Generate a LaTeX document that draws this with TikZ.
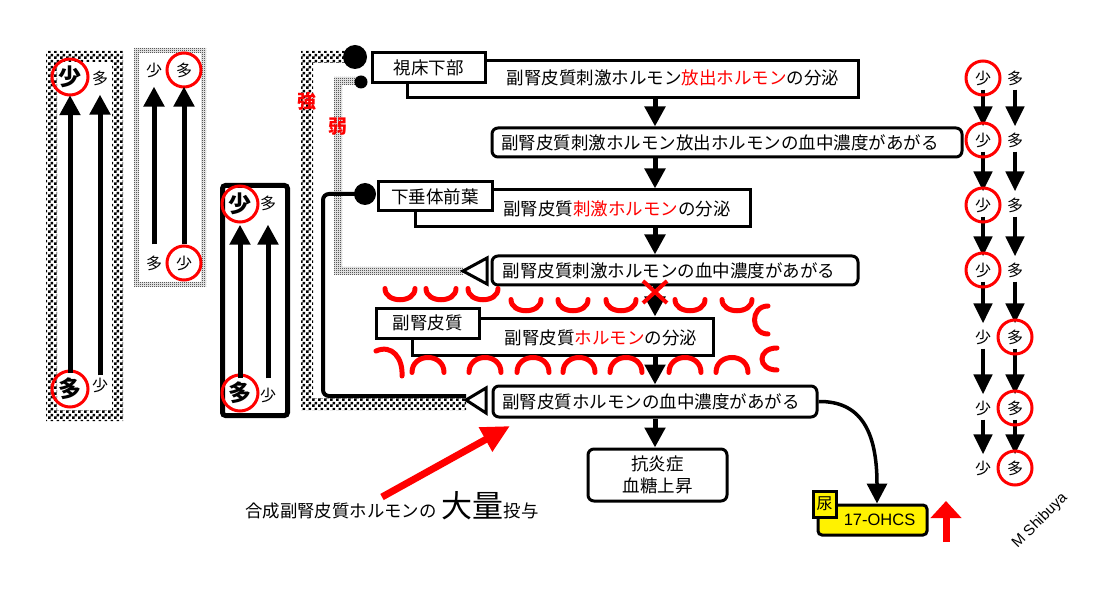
\documentclass[tikz,border=0pt]{standalone}
\usepackage{fontspec}
\setmainfont{Noto Sans CJK JP}
\newfontfamily\arialf{Liberation Sans}
\usetikzlibrary{arrows.meta,patterns}
\pgfdeclarepatternformonly{bigcheck}{\pgfpointorigin}{\pgfqpoint{6pt}{6pt}}{\pgfqpoint{6pt}{6pt}}{%
  \pgfpathrectangle{\pgfpointorigin}{\pgfqpoint{3pt}{3pt}}%
  \pgfpathrectangle{\pgfqpoint{3pt}{3pt}}{\pgfqpoint{3pt}{3pt}}%
  \pgfusepath{fill}}
\pgfdeclarepatternformonly{finecheck}{\pgfpointorigin}{\pgfqpoint{2pt}{2pt}}{\pgfqpoint{2pt}{2pt}}{%
  \pgfpathrectangle{\pgfpointorigin}{\pgfqpoint{1pt}{1pt}}%
  \pgfpathrectangle{\pgfqpoint{1pt}{1pt}}{\pgfqpoint{1pt}{1pt}}%
  \pgfusepath{fill}}
\tikzset{
  fs/.style={font=\fontsize{#1}{#1}\selectfont},
  txt/.style={inner sep=0pt, fs=17.5},
  sq/.style={draw, line width=3pt, fill=white, inner sep=0pt},
  rbox/.style={draw, line width=3pt, fill=white, rounded corners=6pt, inner sep=0pt},
  lbox/.style={draw, line width=3pt, fill=white, inner sep=0pt, fs=17.5},
  flow/.style={line width=5pt, -{Triangle[width=20pt,length=20pt]}},
  parrow/.style={line width=5pt, -{Triangle[width=20pt,length=20pt]}},
  carrow/.style={line width=4.5pt, -{Triangle[width=18pt,length=20pt]}},
  redc/.style={draw=red, line width=3pt},
  ch/.style={inner sep=0pt, fs=16},
  chb/.style={inner sep=0pt, font=\fontsize{23}{23}\selectfont\bfseries},
  cupline/.style={red, line width=5pt, line cap=round},
  tri/.style={draw, line width=3pt, fill=white, line join=miter},
  blob/.style={circle, fill, inner sep=0pt},
  redlab/.style={text=red, inner sep=0pt, font=\fontsize{19}{19}\selectfont\bfseries},
}
\begin{document}
\begin{tikzpicture}[x=1pt,y=-1pt]
\useasboundingbox (0,0) rectangle (1099,593);
\fill[white] (0,0) rectangle (1099,593);

% ---------- panel 1 ----------
\fill[pattern=bigcheck, even odd rule] (46,51) rectangle (123,421) (57,62) rectangle (112,410);
\node[chb] (p1a) at (70,77) {少};
\node[ch] (p1b) at (100,78) {多};
\node[chb] (p1c) at (70,389) {多};
\node[ch] (p1d) at (100,385) {少};
\draw[redc] (p1a.center) circle[radius=18pt];
\draw[redc] (p1c.center) circle[radius=18pt];
\draw[parrow, shorten <=5pt, shorten >=7pt] (p1c) -- (p1a);
\draw[parrow, shorten <=2pt, shorten >=9pt] (p1d) -- (p1b);

% ---------- panel 2 ----------
\fill[pattern=finecheck, even odd rule] (134,48) rectangle (206,287) (139,53) rectangle (201,282);
\node[ch] (p2a) at (154,70) {少};
\node[ch] (p2b) at (184,70) {多};
\node[ch] (p2c) at (154,263) {多};
\node[ch] (p2d) at (184,263) {少};
\draw[redc] (p2b.center) circle[radius=17pt];
\draw[redc] (p2d.center) circle[radius=17pt];
\draw[parrow, shorten <=11pt, shorten >=9pt] (p2c) -- (p2a);
\draw[parrow, shorten <=11pt, shorten >=9pt] (p2d) -- (p2b);

% ---------- panel 3 ----------
\draw[line width=5pt, rounded corners=3pt] (222.5,185.5) rectangle (287.5,415.5);
\node[chb] (p3a) at (240,204) {少};
\node[ch] (p3b) at (268,203) {多};
\node[chb] (p3c) at (240,393) {多};
\node[ch] (p3d) at (268,395) {少};
\draw[redc] (p3a.center) circle[radius=18pt];
\draw[redc] (p3c.center) circle[radius=18pt];
\draw[parrow, shorten <=3.5pt, shorten >=9.5pt] (p3c) -- (p3a);
\draw[parrow, shorten <=9pt, shorten >=14pt] (p3d) -- (p3b);

% ---------- feedback bands ----------
\fill[pattern=bigcheck] (355,51) -- (301,51) -- (301,410) -- (466,410) -- (466,398) -- (313,398) -- (313,63) -- (355,63) -- cycle;
\fill[pattern=finecheck] (362,77) -- (334,77) -- (334,275) -- (463,275) -- (463,267) -- (342,267) -- (342,85) -- (362,85) -- cycle;
\coordinate (c3) at (365,194);
\coordinate (tD) at (463,271);
\coordinate (tF) at (466,400);
\draw[line width=4pt, rounded corners=6pt] (c3) -- (323,194) -- (323,396) -- (tF |- 0,396);
\node[blob, minimum size=24pt] (d1) at (355,57) {};
\node[blob, minimum size=13pt] (d2) at (361,82) {};
\node[blob, minimum size=22pt] (d3) at (c3) {};
\node[redlab] (kyo) at (307,101) {強};
\node[redlab] (jaku) at (338,127) {弱};

% ---------- main flow ----------
\node[sq, minimum width=451pt, minimum height=37pt] (A) at (632.5,79.5) {};
\node[lbox, minimum width=113pt, minimum height=30pt] (La) at (428.5,68) {視床下部};
\node[txt] (At) at (673,78) {副腎皮質刺激ホルモン\textcolor{red}{放出ホルモン}の分泌};

\node[rbox, minimum width=470pt, minimum height=29pt] (B) at (727,142.5) {};
\node[txt] (Bt) at (720,143) {副腎皮質刺激ホルモン放出ホルモンの血中濃度があがる};

\node[sq, minimum width=335pt, minimum height=37pt] (C) at (582.5,208.5) {};
\node[lbox, minimum width=114pt, minimum height=29pt] (Lc) at (435,196.5) {下垂体前葉};
\node[txt] (Ct) at (617,209) {副腎皮質\textcolor{red}{刺激ホルモン}の分泌};

\node[rbox, minimum width=366pt, minimum height=29pt] (D) at (675,270.5) {};
\node[txt] (Dt) at (669,271) {副腎皮質刺激ホルモンの血中濃度があがる};

\node[sq, minimum width=301pt, minimum height=37pt] (E) at (562.5,336.5) {};
\node[lbox, minimum width=103pt, minimum height=30pt] (Le) at (427.5,323) {副腎皮質};
\node[txt] (Et) at (601,338) {副腎皮質\textcolor{red}{ホルモン}の分泌};

\node[rbox, minimum width=324pt, minimum height=31pt] (F) at (655,401.5) {};
\node[txt] (Ft) at (651,402) {副腎皮質ホルモンの血中濃度があがる};

\node[rbox, minimum width=139pt, minimum height=52pt, align=center, font=\fontsize{17.5}{22}\selectfont] (G) at (657.5,475) {抗炎症\\血糖上昇};

\coordinate (ax) at (655,0);
\draw[flow] (A.south -| ax) -- (B.north -| ax);
\draw[flow] (B.south -| ax) -- (C.north -| ax);
\draw[flow] (C.south -| ax) -- (D.north -| ax);
\draw[flow] (D.south -| ax) -- (E.north -| ax);
\draw[flow] (E.south -| ax) -- (F.north -| ax);
\draw[flow] (F.south -| ax) -- (G.north -| ax);

\draw[tri] (tD) -- (487,258) -- (487,284) -- cycle;
\draw[tri] (tF) -- (486,388) -- (486,413) -- cycle;

% red X
\draw[red, line width=4pt] (643,281) -- (667,303) (667,281) -- (643,303);

% red arcs (barrier)
\foreach \x in {400,441,483}
  \draw[cupline] (\x-15,288.5) .. controls (\x-15,303.5) and (\x+15,303.5) .. (\x+15,288.5);
\foreach \x in {526,573,621,690,737}
  \draw[cupline] (\x-15,299.5) .. controls (\x-15,314.5) and (\x+15,314.5) .. (\x+15,299.5);
\foreach \x in {428,485,533,579,626,685,732}
  \draw[cupline] (\x-16,372.5) .. controls (\x-16,352.5) and (\x+16,352.5) .. (\x+16,372.5);
\draw[cupline] (768,306) .. controls (750,306) and (750,334) .. (768,334);
\draw[cupline] (777,348) .. controls (757,348) and (757,370) .. (777,370);
\draw[cupline] (376,351) .. controls (392,344) and (403,358) .. (402,376);

% ---------- 17-OHCS ----------
\node[draw, line width=3pt, fill=yellow, rounded corners=4pt, minimum width=109pt, minimum height=30pt, inner sep=0pt, font=\arialf\fontsize{16.5}{16.5}\selectfont] (OH) at (872.5,520) {\hspace*{14pt}17-OHCS};
\node[draw, line width=3pt, fill=yellow, minimum width=23pt, minimum height=26pt, inner sep=0pt, fs=16] (nyo) at (824.5,504) {尿};
\draw[line width=3.5pt, -{Triangle[width=20pt,length=20pt]}] (F.east) .. controls (860,401) and (877,430) .. ([xshift=4.5pt]OH.north);
\coordinate (ua1) at (946,542);
\coordinate (ua2) at (946,501);
\draw[red, line width=7pt, -{Triangle[width=30pt,length=17pt]}] (ua1) -- (ua2);

% ---------- bottom text ----------
\node[anchor=base west, inner sep=0pt, fs=17.4] (dose) at (245,517) {合成副腎皮質ホルモンの\hspace{5pt}{\fontsize{31}{31}\selectfont 大量}投与};
\coordinate (ra1) at (382,497);
\coordinate (ra2) at (510,426);
\draw[red, line width=7pt, -{Triangle[width=26pt,length=28pt]}] (ra1) -- (ra2);

% ---------- right column ----------
\foreach \i/\y in {1/78,2/140,3/205,4/270,5/337,6/408,7/468} {
  \node[ch] (L\i) at (983,\y) {少};
  \node[ch] (R\i) at (1015,\y) {多};
}
\foreach \i/\j in {1/2,2/3,3/4,4/5,5/6,6/7} {
  \draw[carrow, shorten <=4pt, shorten >=6pt] (L\i) -- (L\j);
  \draw[carrow, shorten <=4pt, shorten >=6pt] (R\i) -- (R\j);
}
\foreach \i in {1,2,3,4} \draw[redc] (L\i.center) circle[radius=17pt];
\foreach \i in {5,6,7} \draw[redc] (R\i.center) circle[radius=17pt];

\node[rotate=45, inner sep=0pt, font=\arialf\fontsize{15}{15}\selectfont] (sig) at (1040,521) {M Shibuya};
\end{tikzpicture}
\end{document}
